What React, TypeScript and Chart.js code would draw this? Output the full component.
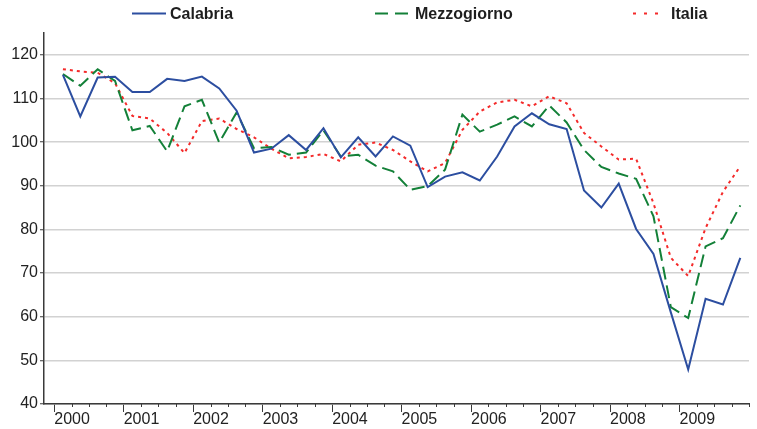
import React, { useEffect, useRef } from "react";
import { Chart, registerables } from "chart.js";

Chart.register(...registerables);

const years = ["2000", "2001", "2002", "2003", "2004", "2005", "2006", "2007", "2008", "2009"];

const calabria = [
  115.4, 105.9, 114.8, 115.0, 111.5, 111.5, 114.5, 114.0, 115.0, 112.3,
  107.2, 97.6, 98.5, 101.6, 98.2, 103.2, 96.5, 101.1, 96.7, 101.3,
  99.2, 89.7, 92.1, 93.1, 91.2, 96.7, 103.6, 106.6, 104.1, 103.0,
  88.9, 85.0, 90.5, 80.1, 74.4, 61.0, 47.9, 64.1, 62.8, 73.5,
];

const mezzogiorno = [
  115.6, 112.9, 116.7, 114.0, 102.7, 103.7, 97.9, 108.2, 109.7, 99.9,
  106.8, 98.6, 98.9, 97.1, 97.6, 102.7, 96.7, 97.1, 94.6, 93.3,
  89.1, 89.9, 93.7, 106.3, 102.4, 104.0, 105.9, 103.6, 108.4, 104.5,
  98.2, 94.3, 92.8, 91.6, 83.0, 62.2, 59.7, 76.1, 78.0, 85.5,
];

const italia = [
  116.7, 116.2, 115.9, 113.5, 106.0, 105.4, 102.1, 97.5, 104.8, 105.4,
  103.0, 101.1, 98.5, 96.3, 96.6, 97.3, 95.6, 99.4, 99.9, 98.2,
  95.6, 93.3, 95.2, 102.8, 107.0, 109.1, 109.7, 108.2, 110.5, 108.9,
  102.1, 99.0, 96.0, 96.2, 86.0, 73.5, 69.3, 80.3, 88.6, 94.5,
];

const seriesNames = ["Calabria", "Mezzogiorno", "Italia"];
const seriesColors = ["#2c4ea0", "#138038", "#f42a2a"];
const seriesDash: number[][] = [[], [13, 6], [3, 4]];
const yTickValues = [40, 50, 60, 70, 80, 90, 100, 110, 120];

const toPoints = (arr: number[]) => arr.map((v, i) => ({ x: i, y: v }));

const minorTicks = {
  id: "minorTicks",
  afterDraw(chart: any) {
    const s = chart.scales.x;
    const ctx = chart.ctx;
    ctx.save();
    ctx.strokeStyle = "#3a3a3a";
    ctx.lineWidth = 1;
    for (let k = 0; k <= 40; k++) {
      if (k % 4 === 0 && k < 40) continue;
      const px = Math.round(s.getPixelForValue(k - 0.5)) + 0.5;
      ctx.beginPath();
      ctx.moveTo(px, s.top);
      ctx.lineTo(px, s.top + 3);
      ctx.stroke();
    }
    ctx.restore();
  },
};

function Legend() {
  const items = [
    { left: 132, textLeft: 170 },
    { left: 375, textLeft: 415 },
    { left: 633, textLeft: 671 },
  ];
  return (
    <div style={{ position: "absolute", left: 0, top: 0, width: 757, height: 30 }}>
      {items.map((it, i) => (
        <React.Fragment key={i}>
          <svg
            style={{ position: "absolute", left: it.left, top: 11 }}
            width={34}
            height={5}
          >
            <line
              x1={0}
              y1={2.5}
              x2={i === 2 ? 26 : 34}
              y2={2.5}
              stroke={seriesColors[i]}
              strokeWidth={2}
              strokeDasharray={i === 0 ? undefined : i === 1 ? "13 7" : "3 8"}
            />
          </svg>
          <div
            style={{
              position: "absolute",
              left: it.textLeft,
              top: 4,
              font: "bold 16px 'Liberation Sans', Arial, sans-serif",
              color: "#1e1e1e",
              lineHeight: "20px",
              whiteSpace: "nowrap",
            }}
          >
            {seriesNames[i]}
          </div>
        </React.Fragment>
      ))}
    </div>
  );
}

export default function App() {
  const ref = useRef<HTMLCanvasElement | null>(null);

  useEffect(() => {
    document.body.style.margin = "0";
    const canvas = ref.current;
    if (!canvas) return;
    const series = [calabria, mezzogiorno, italia];
    const chart = new Chart(canvas, {
      type: "line",
      data: {
        datasets: series.map((s, i) => ({
          label: seriesNames[i],
          data: toPoints(s),
          borderColor: seriesColors[i],
          backgroundColor: seriesColors[i],
          borderWidth: 2,
          borderDash: seriesDash[i],
          pointRadius: 0,
          tension: 0,
          fill: false,
        })),
      },
      options: {
        responsive: false,
        animation: false,
        devicePixelRatio: 1,
        layout: { padding: { top: 33, right: 8, left: 0, bottom: 0 } },
        plugins: {
          legend: { display: false },
          tooltip: { enabled: false },
        },
        scales: {
          x: {
            type: "linear",
            min: -1.09,
            max: 39.5,
            afterFit: (scale: any) => {
              scale.height = 25;
            },
            afterBuildTicks: (scale: any) => {
              scale.ticks = years.map((_, i) => ({ value: i * 4 - 0.5 }));
            },
            border: { display: true, color: "#3a3a3a", width: 1.5 },
            grid: {
              drawOnChartArea: false,
              drawTicks: true,
              tickLength: 8,
              tickColor: "#3a3a3a",
              tickWidth: 1,
            },
            ticks: {
              autoSkip: false,
              maxRotation: 0,
              minRotation: 0,
              align: "start",
              padding: -2,
              color: "#222222",
              font: { family: "'Liberation Sans', Arial, sans-serif", size: 16 },
              callback: (value: any) => {
                const idx = Math.round((Number(value) + 0.5) / 4);
                return years[idx] ?? "";
              },
            },
          },
          y: {
            type: "linear",
            min: 40,
            max: 125,
            afterFit: (scale: any) => {
              scale.width = 44;
            },
            afterBuildTicks: (scale: any) => {
              scale.ticks = yTickValues.map((v) => ({ value: v }));
            },
            border: { display: true, color: "#3a3a3a", width: 1.5 },
            grid: {
              color: "#d2d2d2",
              lineWidth: 1.5,
              drawTicks: true,
              tickLength: 4,
              tickColor: "#3a3a3a",
              tickWidth: 1,
            },
            ticks: {
              padding: 2,
              color: "#222222",
              font: { family: "'Liberation Sans', Arial, sans-serif", size: 16 },
            },
          },
        },
      },
      plugins: [minorTicks],
    } as any);
    return () => chart.destroy();
  }, []);

  return (
    <div style={{ position: "relative", width: 757, height: 429 }}>
      <canvas ref={ref} width={757} height={429} style={{ display: "block" }} />
      <Legend />
    </div>
  );
}
